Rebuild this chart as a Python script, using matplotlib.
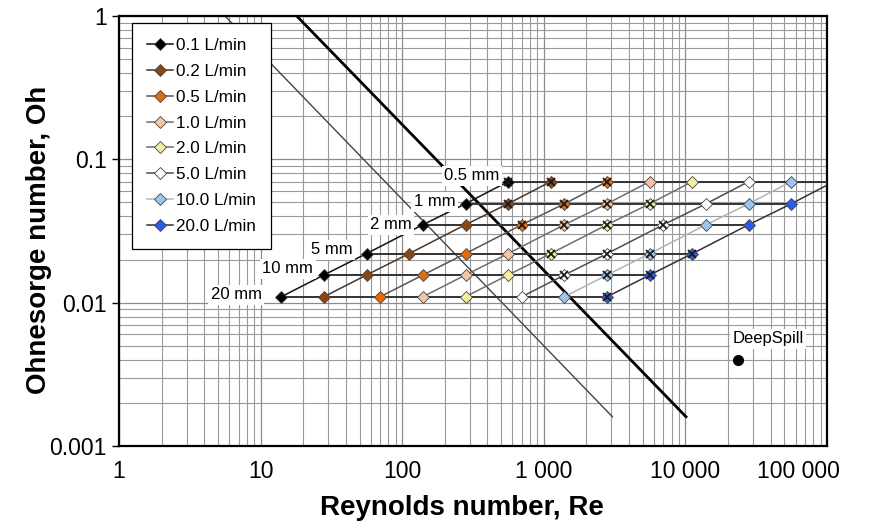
import numpy as np
import matplotlib
matplotlib.use("Agg")
from matplotlib import pyplot as plt
from matplotlib.transforms import ScaledTranslation

plt.rcParams['font.family'] = ['Liberation Sans', 'DejaVu Sans']

# nozzle diameters (mm) and the Ohnesorge number of each row
diameters = ['20 mm', '10 mm', '5 mm', '2 mm', '1 mm', '0.5 mm']
oh_values = [0.011, 0.0156, 0.022, 0.035, 0.049, 0.07]

flow_labels = ['0.1 L/min', '0.2 L/min', '0.5 L/min', '1.0 L/min',
               '2.0 L/min', '5.0 L/min', '10.0 L/min', '20.0 L/min']

# Reynolds number per flow rate, one value per diameter (20 mm ... 0.5 mm)
re_01 = [14, 28, 56, 140, 280, 560]
re_02 = [28, 56, 112, 280, 560, 1120]
re_05 = [70, 140, 280, 700, 1400, 2800]
re_10 = [140, 280, 560, 1400, 2800, 5600]
re_20 = [280, 560, 1120, 2800, 5600, 11200]
re_50 = [700, 1400, 2800, 7000, 14000, 28000]
re_100 = [1400, 2800, 5600, 14000, 28000, 56000]
re_200 = [2800, 5600, 11200, 28000, 56000, 112000]
re_series = [re_01, re_02, re_05, re_10, re_20, re_50, re_100, re_200]

# points drawn with an extra cross on top
cross_01 = [0, 0, 0, 0, 0, 1]
cross_02 = [0, 0, 0, 0, 1, 1]
cross_05 = [0, 0, 0, 1, 1, 1]
cross_10 = [0, 0, 0, 1, 1, 0]
cross_20 = [0, 0, 1, 1, 1, 0]
cross_50 = [0, 1, 1, 1, 0, 0]
cross_100 = [0, 1, 1, 0, 0, 0]
cross_200 = [1, 1, 1, 0, 0, 0]
cross_flags = [cross_01, cross_02, cross_05, cross_10, cross_20, cross_50,
               cross_100, cross_200]

# the two Oh*Re = const guide lines
thick_re = [18, 10100]
thick_oh = [1.0, 0.0016]
thin_re = [5.6, 3050]
thin_oh = [1.0, 0.0016]

deepspill_re = 23500
deepspill_oh = 0.004

x_ticks = [1, 10, 100, 1000, 10000, 100000]
x_ticklabels = ['1', '10', '100', '1 000', '10 000', '100 000']
y_ticks = [0.001, 0.01, 0.1, 1]
y_ticklabels = ['0.001', '0.01', '0.1', '1']

marker_colors = ['#000000', '#8b4513', '#e46c0a', '#f5c6a5',
                 '#f2f0a0', '#ffffff', '#9fc5e8', '#2b5ce6']
line_colors = ['#111111', '#4a3626', '#555555', '#6e6e6e',
               '#6e6e6e', '#4d4d4d', '#b3b3b3', '#333333']

fig = plt.figure(figsize=(8.74, 5.31), dpi=100)
ax = fig.add_axes([119 / 874, 1 - 446 / 531, 708 / 874, 430 / 531])
ax.set_xscale('log')
ax.set_yscale('log')
ax.set_xlim(1, 100000)
ax.set_ylim(0.001, 1)

ax.set_axisbelow(True)
ax.grid(which='major', color='#8c8c8c', lw=0.9)
ax.grid(which='minor', color='#9a9a9a', lw=0.8)

# guide lines
ax.plot(thin_re, thin_oh, color='#444444', lw=1.0, zorder=2)
ax.plot(thick_re, thick_oh, color='black', lw=2.0, zorder=2)

# constant diameter rows
re_arr = np.array(re_series)
for j in range(len(diameters)):
    ax.plot(re_arr[:, j], [oh_values[j]] * len(re_series),
            color='#333333', lw=1.4, zorder=3)

# one line per flow rate
handles = []
for i, re in enumerate(re_series):
    h, = ax.plot(re, oh_values, color=line_colors[i], lw=1.1, marker='D',
                 markersize=6, markerfacecolor=marker_colors[i],
                 markeredgecolor='#444444', markeredgewidth=0.6,
                 label=flow_labels[i], zorder=4)
    handles.append(h)
    xs = [r for r, f in zip(re, cross_flags[i]) if f]
    ys = [o for o, f in zip(oh_values, cross_flags[i]) if f]
    ax.plot(xs, ys, linestyle='none', marker='x', markersize=6,
            color='#1a1a1a', markeredgewidth=1.3, zorder=5)

# diameter labels next to the 0.1 L/min points
label_offsets = [(-45, 2), (-36, 6), (-35, 4), (-32, 0), (-31, 2), (-36, 6)]
for j, name in enumerate(diameters):
    ax.annotate(name, (re_01[j], oh_values[j]), xytext=label_offsets[j],
                textcoords='offset pixels', ha='center', va='center',
                fontsize=12, zorder=7,
                bbox=dict(boxstyle='square,pad=0.15', fc='white', ec='none'))

ax.plot([deepspill_re], [deepspill_oh], 'o', color='black', markersize=7,
        zorder=5)
ax.annotate('DeepSpill', (deepspill_re, deepspill_oh), xytext=(30, 21),
            textcoords='offset pixels', ha='center', va='center',
            fontsize=12, zorder=7,
            bbox=dict(boxstyle='square,pad=0.15', fc='white', ec='none'))

ax.set_xticks(x_ticks)
ax.set_xticklabels(x_ticklabels)
ax.set_yticks(y_ticks)
ax.set_yticklabels(y_ticklabels)
ax.xaxis.set_minor_formatter(matplotlib.ticker.NullFormatter())
ax.yaxis.set_minor_formatter(matplotlib.ticker.NullFormatter())
ax.tick_params(axis='x', which='both', length=0, pad=10, labelsize=16.5)
ax.tick_params(axis='y', which='major', length=5, width=1, pad=4,
               labelsize=16.5)
ax.tick_params(axis='y', which='minor', length=0)

# last x label sits inside the figure, left of its tick
last = ax.get_xticklabels()[-1]
last.set_transform(last.get_transform() +
                   ScaledTranslation(-0.29, 0, fig.dpi_scale_trans))

for s in ax.spines.values():
    s.set_linewidth(1.6)
    s.set_color('black')

ax.set_xlabel('Reynolds number, Re', fontsize=20, fontweight='bold')
ax.set_ylabel('Ohnesorge number, Oh', fontsize=20, fontweight='bold')
ax.xaxis.set_label_coords(0.485, -0.115)
ax.yaxis.set_label_coords(-0.095, 0.48)

leg = ax.legend(handles=handles, loc='upper left',
                bbox_to_anchor=(0.018, 0.984), borderaxespad=0,
                fontsize=12.3, handlelength=1.5, handletextpad=0.2,
                labelspacing=0.63, borderpad=0.9, fancybox=False,
                framealpha=1, edgecolor='black')
leg.get_frame().set_linewidth(0.9)
leg.set_zorder(8)

fig.savefig('out.png', dpi=100)
